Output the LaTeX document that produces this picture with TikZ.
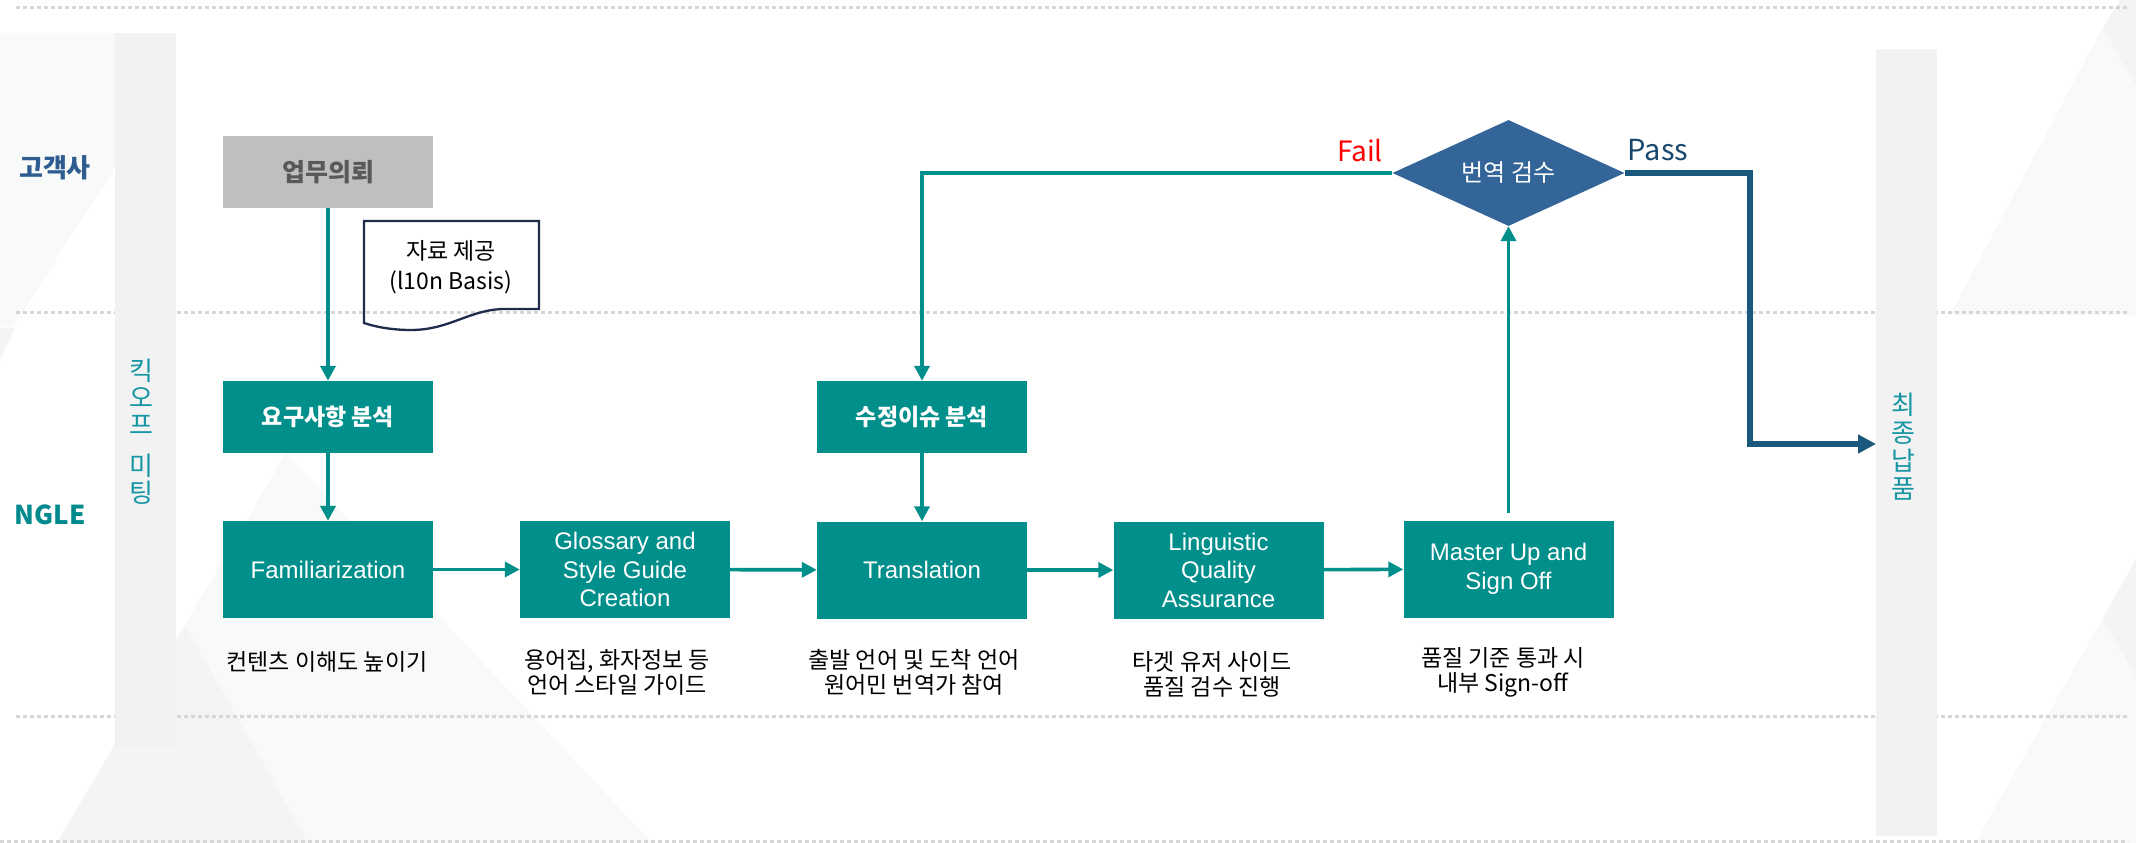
\documentclass[tikz,border=0pt]{standalone}
\usepackage{fontspec}
\setmainfont{Noto Sans CJK KR}
\newfontfamily\enfont{Liberation Sans}
\usetikzlibrary{arrows.meta,shapes.geometric}
\definecolor{tealbox}{RGB}{0,143,138}
\definecolor{graybox}{RGB}{191,191,191}
\definecolor{graytext}{RGB}{89,89,89}
\definecolor{diafill}{RGB}{52,101,153}
\definecolor{passblue}{RGB}{26,88,125}
\definecolor{passtext}{RGB}{24,72,110}
\definecolor{custblue}{RGB}{46,92,145}
\definecolor{ngleteal}{RGB}{0,138,142}
\definecolor{kickteal}{RGB}{22,150,165}
\definecolor{barfill}{RGB}{242,242,242}
\definecolor{dotgray}{RGB}{214,214,214}
\definecolor{docline}{RGB}{30,45,75}
\definecolor{trilight}{RGB}{248,249,249}
\definecolor{tridark}{RGB}{243,244,244}
\tikzset{
  dotline/.style={dotgray, line width=3pt, dash pattern=on 4pt off 3pt},
  graynode/.style={fill=graybox, text=graytext, minimum width=210pt, minimum height=72pt, inner sep=0pt, font=\bfseries\fontsize{25}{28}\selectfont},
  tealsmall/.style={fill=tealbox, text=white, minimum width=210pt, minimum height=72pt, inner sep=0pt, font=\bfseries\fontsize{23}{26}\selectfont},
  tealmain/.style={fill=tealbox, text=white, minimum width=210pt, minimum height=97pt, inner sep=0pt, align=center, font=\enfont\fontsize{24}{28.5}\selectfont},
  caption/.style={text=black, align=center, inner sep=0pt, font=\fontsize{23}{25}\selectfont},
  tealarrow/.style={tealbox, line width=3.6pt, -{Triangle[length=15pt,width=15pt]}},
  passarrow/.style={passblue, line width=5.5pt, -{Triangle[length=18pt,width=18pt]}},
  vtext/.style={align=center, inner sep=0pt, font=\fontsize{26}{27}\selectfont}
}
\begin{document}
\begin{tikzpicture}[x=1pt,y=-1pt]
\useasboundingbox (0,0) rectangle (2136,843);
\fill[white] (0,0) rectangle (2136,843);
% background decoration
\fill[trilight] (286,453) -- (57,843) -- (652,843) -- cycle;
\fill[tridark] (185,625) -- (57,843) -- (308,843) -- cycle;
\fill[trilight] (0,33) -- (115,33) -- (115,167) -- (13,327) -- (0,327) -- cycle;
\fill[tridark] (0,328) -- (15,328) -- (0,360) -- cycle;
\fill[trilight] (2103,27) -- (1950,315) -- (2136,315) -- (2136,86) -- cycle;
\fill[tridark] (2103,27) -- (2120,0) -- (2136,0) -- (2136,86) -- cycle;
\fill[trilight] (2103,618) -- (1975,843) -- (2136,843) -- (2136,677) -- cycle;
\fill[tridark] (2103,618) -- (2136,559) -- (2136,677) -- cycle;
% dotted lane lines
\draw[dotline] (16,8) -- (2128,8);
\draw[dotline] (16,312) -- (2128,312);
\draw[dotline] (16,716) -- (2128,716);
\draw[dotline] (0,841) -- (2128,841);
% side bars
\fill[barfill] (115,33) rectangle (176,747);
\fill[barfill] (1876,49) rectangle (1937,836);
% lane labels
\node[font=\bfseries\fontsize{26}{30}\selectfont, text=custblue] (cust) at (55,168) {고객사};
\node[font=\bfseries\fontsize{26}{30}\selectfont, text=ngleteal] (ngle) at (50,515) {NGLE};
\node[vtext, text=kickteal] (kick) at (141,432) {킥\\오\\프\\[14pt]미\\팅};
\node[vtext, text=kickteal, font=\fontsize{26}{28}\selectfont] (deliv) at (1903,447) {최\\종\\납\\품};
% document shape
\draw[docline, line width=2.3pt] (364,221) -- (539,221) -- (539,309) -- (505,309)
  .. controls (470,309) and (450,330) .. (411,330)
  .. controls (392,330) and (376,327) .. (364,323) -- cycle;
\node[align=center, inner sep=0pt, font=\fontsize{23}{30}\selectfont] (docs) at (451,267) {자료 제공\\(l10n Basis)};
% process nodes
\node[graynode] (order) at (328,172) {업무의뢰};
\node[tealsmall] (reqan) at (328,417) {요구사항 분석};
\node[tealsmall] (fixan) at (922,417) {수정이슈 분석};
\node[tealmain] (fam) at (328,569.5) {Familiarization};
\node[tealmain] (glos) at (625,569.5) {Glossary and\\Style Guide\\Creation};
\node[tealmain] (trans) at (922,570) {Translation};
\node[tealmain] (lqa) at (1218.5,570) {Linguistic\\Quality\\Assurance};
\node[tealmain] (master) at (1508.5,569) {Master Up and\\Sign Off};
\node[diamond, fill=diafill, text=white, minimum width=232pt, minimum height=106pt, inner sep=0pt, aspect=2.19, font=\fontsize{24}{27}\selectfont] (check) at (1508.5,173) {번역 검수};
% captions
\node[caption] (capfam) at (327,662) {컨텐츠 이해도 높이기};
\node[caption] (capglos) at (617,672.5) {용어집, 화자정보 등\\언어 스타일 가이드};
\node[caption] (captrans) at (914,672.5) {출발 언어 및 도착 언어\\원어민 번역가 참여};
\node[caption] (caplqa) at (1212,674.5) {타겟 유저 사이드\\품질 검수 진행};
\node[caption] (capmaster) at (1503,672) {품질 기준 통과 시\\내부 Sign-off};
% decision labels
\node[text=red, inner sep=0pt, font=\fontsize{28}{32}\selectfont] (faillbl) at (1360,151) {Fail};
\node[text=passtext, inner sep=0pt, font=\fontsize{29}{32}\selectfont] (passlbl) at (1658,150) {Pass};
% connectors
\coordinate (passturn) at (1750,300);
\coordinate (delivin) at (1876,444);
\draw[tealarrow] (order) -- (reqan);
\draw[tealarrow] (reqan) -- (fam);
\draw[tealarrow] (fam) -- (glos);
\draw[tealarrow] (glos) -- (trans);
\draw[tealarrow] (fixan) -- (trans);
\draw[tealarrow] (trans) -- (lqa);
\draw[tealarrow] (lqa) -- (master);
\draw[tealarrow, shorten <=7pt] (master) -- (check);
\draw[tealarrow] (check.west) -| (fixan.north);
\draw[passarrow] (check.east) -| (passturn) |- (delivin);
\end{tikzpicture}
\end{document}
